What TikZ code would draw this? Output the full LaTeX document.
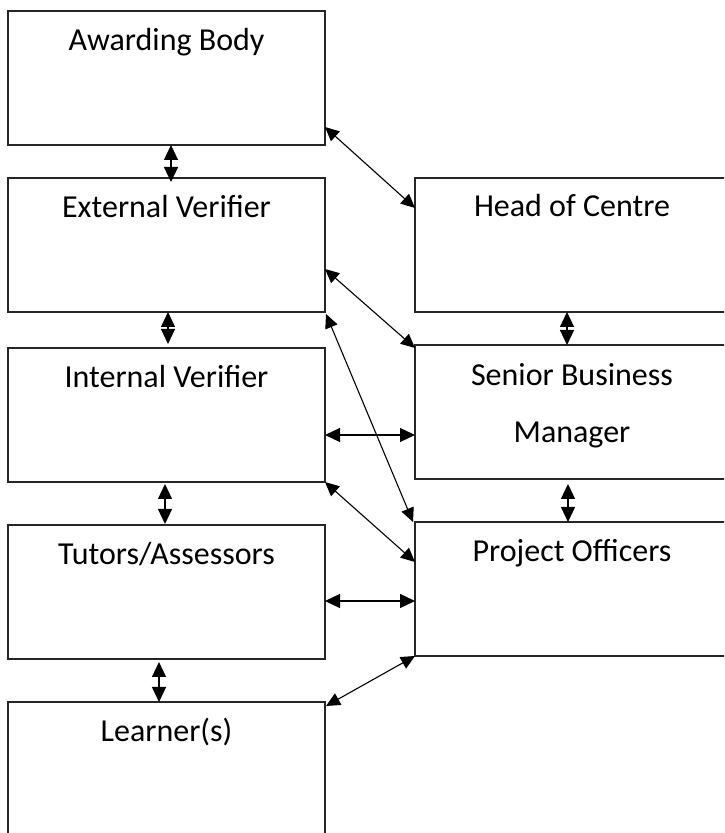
\documentclass[tikz,border=0pt]{standalone}
\usepackage{fontspec}
\setmainfont{Carlito}
\usetikzlibrary{arrows.meta,calc}
\begin{document}
\begin{tikzpicture}[x=1pt,y=1pt,
  box/.style={draw=black!85, line width=1.3pt, minimum width=317pt, minimum height=134pt, inner sep=0pt, outer sep=0pt},
  rbox/.style={box, minimum width=314pt},
  lbl/.style={anchor=base, font=\fontsize{32}{38}\selectfont, inner sep=0pt},
  dbl/.style={{Triangle[length=15pt,width=14pt]}-{Triangle[length=15pt,width=14pt]}, line width=1.2pt},
  dg/.style={{Triangle[length=14pt,width=13pt]}-{Triangle[length=14pt,width=13pt]}, line width=1.1pt},
]
\useasboundingbox (0,0) rectangle (724,833);
\clip (0,0) rectangle (724,833);
% left column
\node[box] (AB) at (166.5,755) {};
\node[box] (EV) at (166.5,588) {};
\node[box] (IV) at (166.5,418) {};
\node[box] (TA) at (166.5,241) {};
\node[box] (LR) at (166.5,64) {};
% right column
\node[rbox] (HC) at (572,588) {};
\node[rbox] (SB) at (572,421) {};
\node[rbox] (PO) at (572,244) {};
% labels
\node[lbl] (tAB) at ($(AB.north)+(0,-40)$) {Awarding Body};
\node[lbl] (tEV) at ($(EV.north)+(0,-40)$) {External Verifier};
\node[lbl] (tIV) at ($(IV.north)+(0,-40)$) {Internal Verifier};
\node[lbl] (tTA) at ($(TA.north)+(0,-40)$) {Tutors/Assessors};
\node[lbl] (tLR) at ($(LR.north)+(0,-40)$) {Learner(s)};
\node[lbl] (tHC) at ($(HC.north)+(0,-39)$) {Head of Centre};
\node[lbl] (tSB1) at ($(SB.north)+(0,-41)$) {Senior Business};
\node[lbl] (tSB2) at ($(SB.north)+(0,-98)$) {Manager};
\node[lbl] (tPO) at ($(PO.north)+(0,-40)$) {Project Officers};
% vertical arrows
\draw[dbl] ([xshift=4.5pt]AB.south) -- ([xshift=4.5pt,yshift=-4pt]EV.north);
\draw[dbl] ([xshift=1.5pt]EV.south) -- ([xshift=1.5pt,yshift=4pt]IV.north);
\draw[dbl] ([xshift=-1.5pt,yshift=-2pt]IV.south) -- ([xshift=-1.5pt,yshift=1pt]TA.north);
\draw[dbl] ([xshift=-7.5pt,yshift=-3pt]TA.south) -- ([xshift=-7.5pt]LR.north);
\draw[dbl] ([xshift=-5pt]HC.south) -- ([xshift=-5pt]SB.north);
\draw[dbl] ([xshift=-4pt,yshift=-5pt]SB.south) -- ([xshift=-4pt]PO.north);
% horizontal arrows
\coordinate (h1) at ($(IV.east)+(0,-20)$);
\draw[dbl] (h1) -- (SB.west |- h1);
\coordinate (h2) at ($(TA.east)+(0,-9)$);
\draw[dbl] (h2) -- (PO.west |- h2);
% diagonal arrows
\draw[dg] ($(AB.south east)+(0,18)$) -- ($(HC.north west)+(0,-30)$);
\draw[dg] ($(EV.south east)+(0,43)$) -- ($(SB.north west)+(0,-3)$);
\draw[dg] ($(EV.south east)+(1,-2)$) -- ($(PO.north west)+(-2,0)$);
\draw[dg] (IV.south east) -- ($(PO.north west)+(0,-40)$);
\draw[dg] (PO.south west) -- ($(LR.north east)+(1,-4)$);
\end{tikzpicture}
\end{document}
